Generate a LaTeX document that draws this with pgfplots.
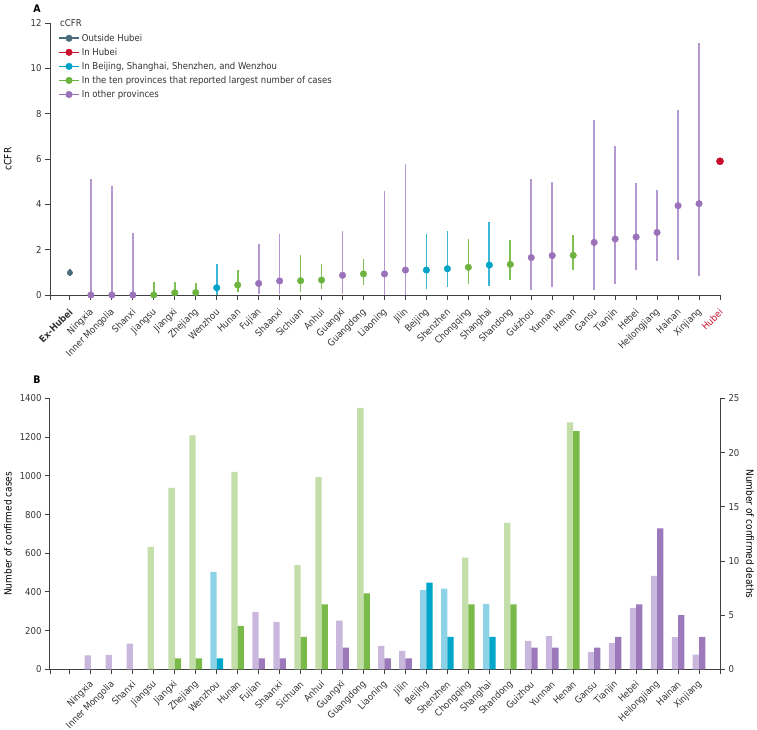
\documentclass[border=0pt]{standalone}
\usepackage{pgfplots}
\pgfplotsset{compat=1.18}
\usepackage{pgfplotstable}
\usepackage{fontspec}
\setmainfont{DejaVu Sans Condensed}

\definecolor{exhub}{HTML}{4A6B7C}
\definecolor{hubei}{HTML}{C8102E}
\definecolor{cyanc}{HTML}{00A3C8}
\definecolor{greenc}{HTML}{6DB33F}
\definecolor{purplec}{HTML}{9B72B9}
\definecolor{purpleerr}{HTML}{B498D0}
\definecolor{greenerr}{HTML}{80C052}
\definecolor{cyanerr}{HTML}{3DB5D6}
\definecolor{lgreen}{HTML}{C4DEAA}
\definecolor{dgreen}{HTML}{79BA4B}
\definecolor{lpurple}{HTML}{CAB7DE}
\definecolor{dpurple}{HTML}{9B79BB}
\definecolor{lcyan}{HTML}{8DD2E6}
\definecolor{dcyan}{HTML}{00A6C9}
\definecolor{txt}{HTML}{333333}
\definecolor{axgray}{HTML}{404040}

% Panel A data: x, cCFR, lower, upper
\pgfplotstableread{
x y lo hi
1 0 0 5.10
2 0 0 4.81
3 0 0 2.75
9 0.51 0.04 2.25
10 0.62 0.04 2.69
13 0.87 0.06 2.82
15 0.93 0 4.59
16 1.10 0 5.78
22 1.65 0.21 5.13
23 1.74 0.34 4.97
25 2.32 0.24 7.70
26 2.47 0.47 6.56
27 2.56 1.10 4.96
28 2.76 1.48 4.65
29 3.94 1.53 8.16
30 4.03 0.82 11.12
}\Apurple
\pgfplotstableread{
x y lo hi
4 0 0 0.57
5 0.10 0 0.57
6 0.11 0 0.53
8 0.44 0.15 1.10
11 0.63 0.15 1.76
12 0.66 0.25 1.37
14 0.93 0.46 1.59
19 1.22 0.47 2.48
21 1.35 0.65 2.43
24 1.75 1.12 2.63
}\Agreen
\pgfplotstableread{
x y lo hi
7 0.32 0 1.37
17 1.10 0.28 2.68
18 1.16 0.34 2.84
20 1.32 0.38 3.23
}\Acyan
\pgfplotstableread{
x y lo hi
0 0.98 0.83 1.13
}\Aex
\pgfplotstableread{
x y lo hi
31 5.90 5.82 5.98
}\Ahub

% Panel B data: x, cases, deaths
\pgfplotstableread{
x c d
1 72 0
2 74 0
3 133 0
9 297 1
10 245 1
13 252 2
15 121 1
16 95 1
22 147 2
23 172 2
25 90 2
26 136 3
27 317 6
28 483 13
29 167 5
30 76 3
}\Bpurple
\pgfplotstableread{
x c d
4 633 0
5 938 1
6 1209 1
8 1021 4
11 538 3
12 993 6
14 1352 7
19 578 6
21 757 6
24 1276 22
}\Bgreen
\pgfplotstableread{
x c d
7 504 1
17 410 8
18 417 3
20 338 3
}\Bcyan

\newcommand{\fs}{\fontsize{9.5}{11.5}\selectfont}

\pgfplotsset{
  myaxis/.style={
    scale only axis, width=670bp, xmin=-0.95, xmax=31, clip=false,
    axis line style={draw=axgray, line width=1bp},
    tick style={draw=axgray, line width=0.9bp},
    major tick length=5bp, tick align=outside,
    tick label style={font=\fs, text=txt},
    label style={font=\fs, text=txt},
    /pgf/number format/assume math mode=true,
    /pgf/number format/1000 sep={},
  },
  errp/.style={only marks, mark=none, forget plot,
    error bars/.cd, y dir=both, y explicit, error mark=none,
    error bar style={draw=#1, line width=1.7bp, solid}},
  dots/.style={only marks, mark=*, mark size=3.3bp, forget plot,
    mark options={fill=#1, draw=#1}},
  rotlab/.style={xticklabel style={yshift=-#1, xshift=1.5bp, rotate=45, anchor=east, inner sep=0.5bp}},
}

\begin{document}
\begin{tikzpicture}
\path[use as bounding box] (0bp,0bp) rectangle (757bp,-730bp);

\node[font=\bfseries\fontsize{10.5}{12}\selectfont, text=black] at (37bp,-9bp) {A};
\node[font=\bfseries\fontsize{10.5}{12}\selectfont, text=black] at (37bp,-380bp) {B};

% ---------------- Panel A ----------------
\begin{axis}[myaxis, at={(50bp,-295bp)}, anchor=south west, height=272bp,
  ymin=0, ymax=12, ytick={0,2,...,12},
  axis x line*=bottom, axis y line*=left,
  xtick={-0.95,0,1,...,31},
  xticklabels={{},\textbf{Ex-Hubei},Ningxia,Inner Mongolia,Shanxi,Jiangsu,Jiangxi,Zhejiang,Wenzhou,Hunan,Fujian,Shaanxi,Sichuan,Anhui,Guangxi,Guangdong,Liaoning,Jilin,Beijing,Shenzhen,Chongqing,Shanghai,Shandong,Guizhou,Yunnan,Henan,Gansu,Tianjin,Hebei,Heilongjiang,Hainan,Xinjiang,\textcolor{hubei}{Hubei}},
  rotlab=10bp,
  ylabel={cCFR},
  every axis y label/.style={at={(axis description cs:-0.063,0.5)}, rotate=90, anchor=center},
  legend style={draw=none, fill=none, at={(axis description cs:0.012,0.968)}, anchor=north west,
    font=\fs, text=txt, inner sep=0pt, row sep=1.4bp,
    cells={anchor=west}},
  legend cell align=left,
]
\addplot[errp=purpleerr] table[x=x, y=y, y error plus expr=\thisrow{hi}-\thisrow{y}, y error minus expr=\thisrow{y}-\thisrow{lo}] {\Apurple};
\addplot[errp=greenerr] table[x=x, y=y, y error plus expr=\thisrow{hi}-\thisrow{y}, y error minus expr=\thisrow{y}-\thisrow{lo}] {\Agreen};
\addplot[errp=cyanerr] table[x=x, y=y, y error plus expr=\thisrow{hi}-\thisrow{y}, y error minus expr=\thisrow{y}-\thisrow{lo}] {\Acyan};
\addplot[errp=exhub] table[x=x, y=y, y error plus expr=\thisrow{hi}-\thisrow{y}, y error minus expr=\thisrow{y}-\thisrow{lo}] {\Aex};
\addplot[dots=purplec] table[x=x,y=y] {\Apurple};
\addplot[dots=greenc] table[x=x,y=y] {\Agreen};
\addplot[dots=cyanc] table[x=x,y=y] {\Acyan};
\addplot[dots=exhub, mark size=2.7bp] table[x=x,y=y] {\Aex};
\addplot[dots=hubei, mark size=3.6bp] table[x=x,y=y] {\Ahub};

\node[anchor=west, font=\fs, text=txt, inner sep=0pt] at (axis description cs:0.015,0.998) {cCFR};

\addlegendimage{legend image code/.code={\draw[exhub, line width=1.6bp] (0bp,0bp)--(20bp,0bp); \fill[exhub] (10bp,0bp) circle (3.3bp);}}
\addlegendentry{Outside Hubei}
\addlegendimage{legend image code/.code={\draw[hubei, line width=1.6bp] (0bp,0bp)--(20bp,0bp); \fill[hubei] (10bp,0bp) circle (3.3bp);}}
\addlegendentry{In Hubei}
\addlegendimage{legend image code/.code={\draw[cyanc, line width=1.6bp] (0bp,0bp)--(20bp,0bp); \fill[cyanc] (10bp,0bp) circle (3.3bp);}}
\addlegendentry{In Beijing, Shanghai, Shenzhen, and Wenzhou}
\addlegendimage{legend image code/.code={\draw[greenc, line width=1.6bp] (0bp,0bp)--(20bp,0bp); \fill[greenc] (10bp,0bp) circle (3.3bp);}}
\addlegendentry{In the ten provinces that reported largest number of cases}
\addlegendimage{legend image code/.code={\draw[purplec, line width=1.6bp] (0bp,0bp)--(20bp,0bp); \fill[purplec] (10bp,0bp) circle (3.3bp);}}
\addlegendentry{In other provinces}
\end{axis}

% ---------------- Panel B: cases ----------------
\begin{axis}[myaxis, at={(50bp,-669.3bp)}, anchor=south west, height=270.8bp,
  ymin=0, ymax=1400, ytick={0,200,...,1400},
  axis x line*=bottom, axis y line*=left,
  xtick={-0.95,0,1,...,31},
  xticklabels={{},{},Ningxia,Inner Mongolia,Shanxi,Jiangsu,Jiangxi,Zhejiang,Wenzhou,Hunan,Fujian,Shaanxi,Sichuan,Anhui,Guangxi,Guangdong,Liaoning,Jilin,Beijing,Shenzhen,Chongqing,Shanghai,Shandong,Guizhou,Yunnan,Henan,Gansu,Tianjin,Hebei,Heilongjiang,Hainan,Xinjiang,{}},
  rotlab=8bp,
  ylabel={Number of confirmed cases},
  every axis y label/.style={at={(axis description cs:-0.063,0.5)}, rotate=90, anchor=center},
]
\addplot[ybar, bar width=6.3bp, bar shift=-3.15bp, fill=lpurple, draw=none, forget plot] table[x=x,y=c] {\Bpurple};
\addplot[ybar, bar width=6.3bp, bar shift=-3.15bp, fill=lgreen, draw=none, forget plot] table[x=x,y=c] {\Bgreen};
\addplot[ybar, bar width=6.3bp, bar shift=-3.15bp, fill=lcyan, draw=none, forget plot] table[x=x,y=c] {\Bcyan};
\end{axis}

% ---------------- Panel B: deaths ----------------
\begin{axis}[myaxis, at={(50bp,-669.3bp)}, anchor=south west, height=270.8bp,
  ymin=0, ymax=25, ytick={0,5,...,25},
  axis x line=none, axis y line*=right,
  ylabel={Number of confirmed deaths},
  every axis y label/.style={at={(axis description cs:1.045,0.5)}, rotate=-90, anchor=center},
]
\addplot[ybar, bar width=6.3bp, bar shift=3.15bp, fill=dpurple, draw=none, forget plot] table[x=x,y=d] {\Bpurple};
\addplot[ybar, bar width=6.3bp, bar shift=3.15bp, fill=dgreen, draw=none, forget plot] table[x=x,y=d] {\Bgreen};
\addplot[ybar, bar width=6.3bp, bar shift=3.15bp, fill=dcyan, draw=none, forget plot] table[x=x,y=d] {\Bcyan};
\end{axis}
\end{tikzpicture}
\end{document}
